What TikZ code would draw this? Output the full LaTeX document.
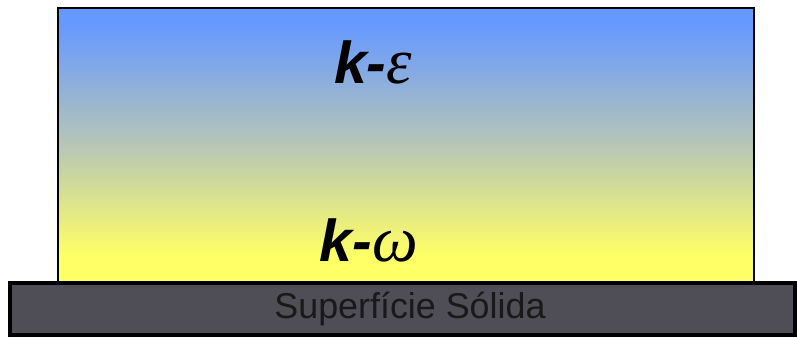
\documentclass[tikz,border=0pt]{standalone}
\usepackage{fontspec}
\setmainfont{Liberation Sans}
\newfontfamily\greekfont{Liberation Serif}
\usetikzlibrary{positioning}

\definecolor{flowblue}{HTML}{6699FF}
\definecolor{flowyellow}{HTML}{FFFF66}
\definecolor{flowmid}{HTML}{B3C4B9}
\definecolor{wallgray}{HTML}{4F4D55}

% shaded area runs from 25bp to 75bp
\pgfdeclareverticalshading{flowshade}{100bp}{%
  color(0bp)=(flowyellow); color(30bp)=(flowyellow);
  color(51bp)=(flowmid);
  color(72bp)=(flowblue); color(100bp)=(flowblue)}

\begin{document}
\begin{tikzpicture}[
    x=0.025cm, y=-0.025cm,
    region/.style={draw=black, line width=2pt, shading=flowshade},
    wall/.style={draw=black, line width=2.4pt, fill=wallgray},
    model/.style={font=\fontsize{42}{48}\selectfont\bfseries\itshape, inner sep=0pt},
    walltext/.style={font=\fontsize{25.5}{30}\selectfont, text=black!90, inner sep=0pt}
]
    \useasboundingbox (0,0) rectangle (797,338);

    % Flow region
    \path[region] (58,8) rectangle (754,283);

    % Solid wall
    \path[wall] (10,283) rectangle (795,335);
    \node[walltext, anchor=base] (surface) at (410,318) {Superfície Sólida};

    % Turbulence models
    \node[model, anchor=base] (komega) at (369,261) {k-{\greekfont\mdseries\fontsize{46}{48}\selectfont ω}};
    \node[model, anchor=base] (keps) at (373,83) {k-{\greekfont\mdseries\fontsize{46}{48}\selectfont ε}};
\end{tikzpicture}
\end{document}
